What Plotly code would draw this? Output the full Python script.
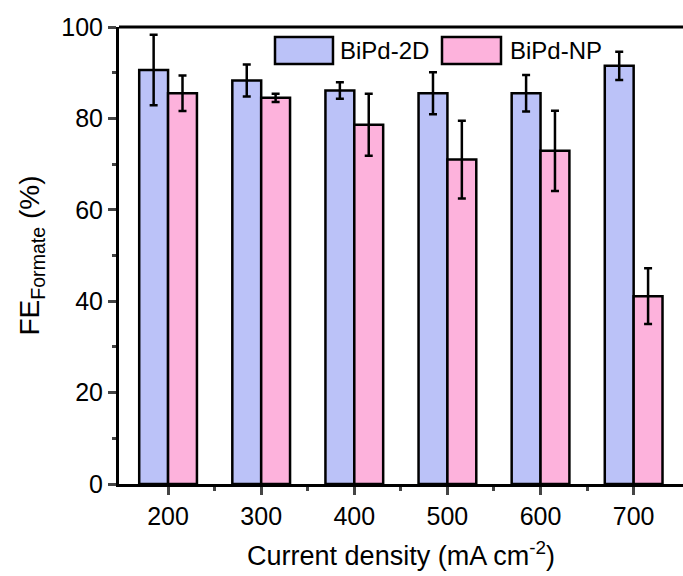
import plotly.graph_objects as go

current = [200, 300, 400, 500, 600, 700]
series_names = ["BiPd-2D", "BiPd-NP"]
fe_2d = [90.6, 88.3, 86.1, 85.5, 85.5, 91.5]
err_2d = [7.7, 3.5, 1.8, 4.6, 4.0, 3.1]
fe_np = [85.5, 84.5, 78.6, 71.0, 72.9, 41.1]
err_np = [3.9, 0.9, 6.8, 8.5, 8.8, 6.1]

FONT = "Liberation Sans, Arial, sans-serif"
COLORS = ["#BBC2F8", "#FDB2DC"]

fig = go.Figure()
for name, vals, errs, col in zip(series_names, [fe_2d, fe_np], [err_2d, err_np], COLORS):
    fig.add_trace(go.Bar(
        x=current, y=vals, name=name,
        marker=dict(color=col, line=dict(color="black", width=2.5)),
        error_y=dict(type="data", array=errs, color="black", thickness=2.5, width=4),
    ))

fig.update_layout(
    width=683, height=576,
    margin=dict(l=119, r=0, t=27, b=92),
    barmode="group", bargap=0.38, bargroupgap=0,
    plot_bgcolor="white", paper_bgcolor="white",
    font=dict(family=FONT, size=25, color="black"),
    showlegend=False,
    xaxis=dict(
        range=[147.3, 753], tickvals=current, ticks="outside", ticklen=8, tickwidth=2.5,
        showline=True, linecolor="black", linewidth=3, mirror=False,
        showgrid=False, zeroline=False, tickfont=dict(size=25),
        minor=dict(tickvals=[250, 350, 450, 550, 650], ticks="outside", ticklen=4, tickwidth=2.5),
        title=dict(text="Current density (mA cm<sup>-2</sup>)", font=dict(size=27), standoff=18),
    ),
    yaxis=dict(
        range=[0, 100], tickvals=[0, 20, 40, 60, 80, 100], ticks="outside", ticklen=8, tickwidth=2.5,
        showline=True, linecolor="black", linewidth=3, showgrid=False, zeroline=False,
        tickfont=dict(size=25),
        minor=dict(tickvals=[10, 30, 50, 70, 90], ticks="outside", ticklen=4, tickwidth=2.5),
        title=dict(text="FE<sub>Formate</sub> (%)", font=dict(size=28), standoff=14),
    ),
)
# top frame line
fig.add_shape(type="line", xref="paper", yref="paper", x0=0, x1=1, y0=1, y1=1,
              line=dict(color="black", width=3))

# legend drawn with wide swatches like the reference
legend_swatch_x = [(0.2766, 0.3794), (0.5727, 0.6773)]
legend_text_x = [0.3883, 0.6897]
for name, col, (sx0, sx1), tx in zip(series_names, COLORS, legend_swatch_x, legend_text_x):
    fig.add_shape(type="rect", xref="paper", yref="paper", x0=sx0, x1=sx1, y0=0.919, y1=0.978,
                  fillcolor=col, line=dict(color="black", width=2.5))
    fig.add_annotation(xref="paper", yref="paper", x=tx, y=0.9485, xanchor="left", yanchor="middle",
                       text=name, showarrow=False, font=dict(size=24, family=FONT, color="black"))

fig.write_html("out.html")
